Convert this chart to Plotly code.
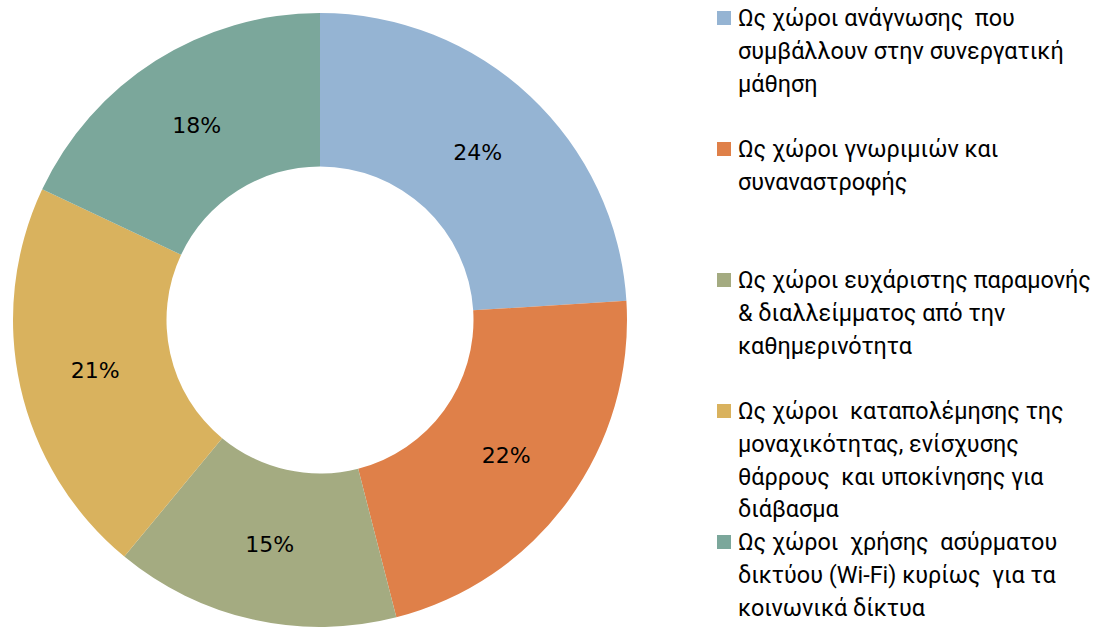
import plotly.graph_objects as go

labels = [
    "Ως χώροι ανάγνωσης  που<br>συμβάλλουν στην συνεργατική<br>μάθηση",
    "Ως χώροι γνωριμιών και<br>συναναστροφής",
    "Ως χώροι ευχάριστης παραμονής<br>&amp; διαλλείμματος από την<br>καθημερινότητα",
    "Ως χώροι  καταπολέμησης της<br>μοναχικότητας, ενίσχυσης<br>θάρρους  και υποκίνησης για<br>διάβασμα",
    "Ως χώροι  χρήσης  ασύρματου<br>δικτύου (Wi-Fi) κυρίως  για τα<br>κοινωνικά δίκτυα",
]
values = [24, 22, 15, 21, 18]
colors = ["#95B4D3", "#DF8049", "#A4AB81", "#D9B25E", "#7BA79B"]

W, H = 1099, 627
MT = 13
PH = H - MT


def px_x(x):
    return x / W


def px_y(y):
    return (H - y) / PH


fig = go.Figure(go.Pie(
    labels=[s.replace("<br>", " ") for s in labels],
    values=values,
    hole=0.5,
    sort=False,
    direction="clockwise",
    rotation=0,
    marker=dict(colors=colors, line=dict(width=0)),
    textinfo="percent",
    textposition="inside",
    insidetextorientation="horizontal",
    textfont=dict(family="DejaVu Sans", size=22, color="#000000"),
    hoverinfo="label+percent",
    domain=dict(x=[13 / W, 627 / W], y=[0, 1]),
    showlegend=False,
))

# manual legend (layout only)
entry_top = 11
entry_step = 131
line_step = 32.75
sq = 14
text_x = 736
sq_x = 717
annotations = []
shapes = []
for i, (lab, col) in enumerate(zip(labels, colors)):
    top = entry_top + entry_step * i
    shapes.append(dict(
        type="rect", xref="paper", yref="paper",
        x0=px_x(sq_x), x1=px_x(sq_x + sq),
        y0=px_y(top + sq), y1=px_y(top),
        fillcolor=col, line=dict(width=0),
    ))
    for k, line in enumerate(lab.split("<br>")):
        baseline = top + 16 + line_step * k
        annotations.append(dict(
            text=line, xref="paper", yref="paper",
            x=px_x(text_x), y=px_y(baseline - 9),
            xanchor="left", yanchor="middle", showarrow=False,
            font=dict(family="Roboto", size=23.4, color="#000000"),
        ))

fig.update_layout(
    width=W, height=H,
    margin=dict(l=0, r=0, t=MT, b=0),
    paper_bgcolor="white",
    plot_bgcolor="white",
    annotations=annotations,
    shapes=shapes,
)

fig.write_html("out.html")
